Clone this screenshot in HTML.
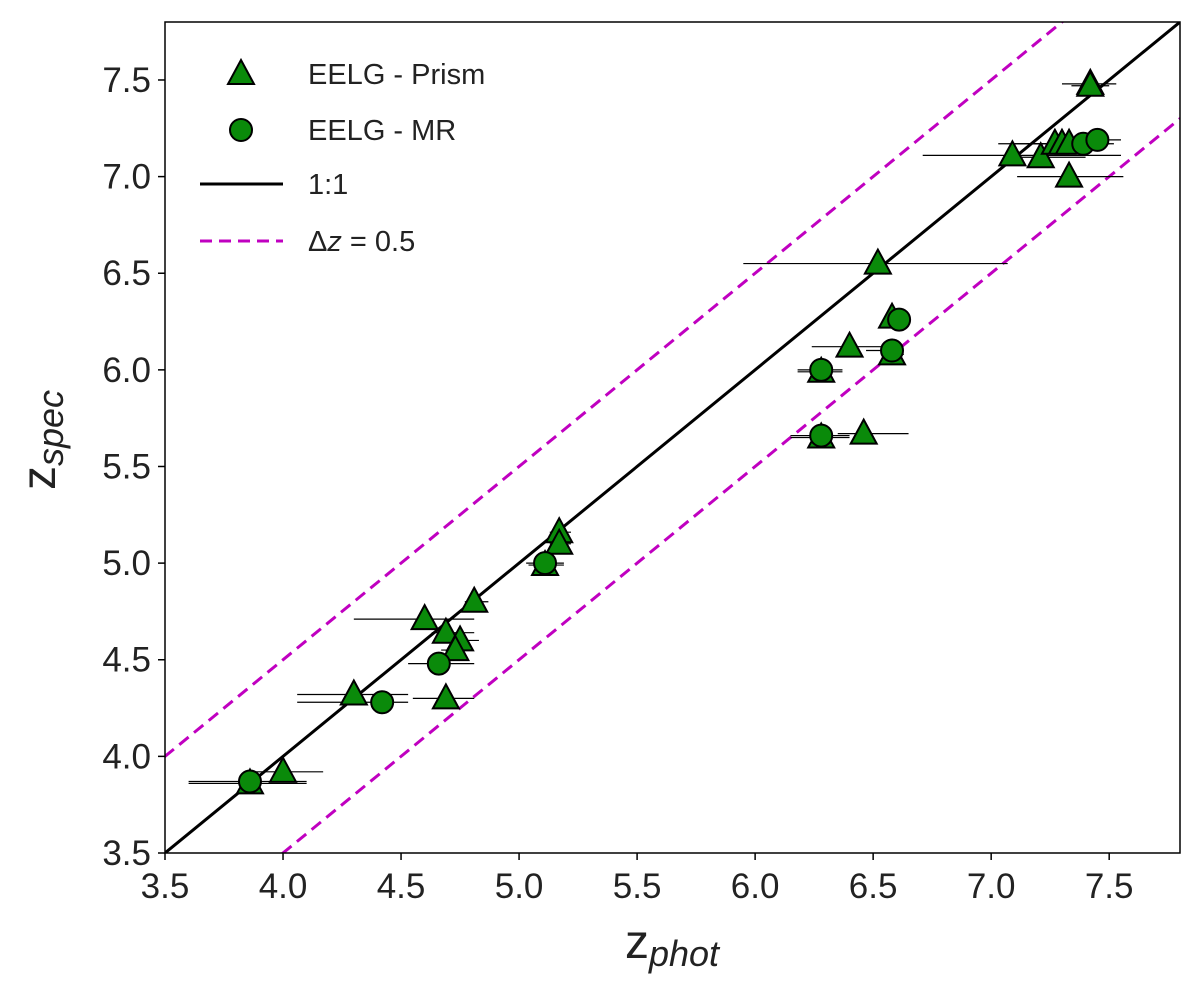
<!DOCTYPE html>
<html><head><meta charset="utf-8"><style>
body{margin:0;background:#fff;}
svg text{font-family:"Liberation Sans",sans-serif;fill:#222;}
</style></head><body>
<svg id="c" width="1200" height="997" xmlns="http://www.w3.org/2000/svg"></svg>
<script>
const prismX=[3.86,4.00,4.30,4.69,4.60,4.69,4.75,4.73,4.81,5.17,5.17,5.11,6.52,6.58,6.58,6.40,6.28,6.28,6.46,7.09,7.21,7.33,7.27,7.30,7.33,7.42,7.42];
const prismY=[3.86,3.92,4.32,4.30,4.71,4.64,4.60,4.55,4.80,5.16,5.10,4.99,6.55,6.27,6.08,6.12,5.99,5.65,5.67,7.11,7.10,7.00,7.17,7.17,7.17,7.48,7.47];
const prismXlo=[3.60,3.86,4.06,4.55,4.30,4.63,4.69,4.67,4.77,5.13,5.13,5.04,5.95,6.55,6.55,6.24,6.18,6.15,6.35,6.71,7.06,7.11,7.03,7.10,7.15,7.30,7.34];
const prismXhi=[4.10,4.17,4.53,4.81,4.81,4.81,4.83,4.80,4.87,5.22,5.22,5.19,7.07,6.62,6.63,6.58,6.37,6.40,6.65,7.55,7.40,7.56,7.50,7.50,7.52,7.53,7.50];
const mrX=[3.86,4.42,4.66,5.11,6.28,6.61,6.58,6.28,7.39,7.45];
const mrY=[3.87,4.28,4.48,5.00,6.00,6.26,6.10,5.66,7.17,7.19];
const mrXlo=[3.60,4.06,4.53,5.03,6.18,6.55,6.47,6.15,7.30,7.40];
const mrXhi=[4.10,4.53,4.81,5.19,6.37,6.66,6.63,6.40,7.50,7.55];
const ticks=[3.5,4.0,4.5,5.0,5.5,6.0,6.5,7.0,7.5];
const tickLabels=["3.5","4.0","4.5","5.0","5.5","6.0","6.5","7.0","7.5"];
const L=165,R=1180,T=22,B=853,MIN=3.5,MAX=7.8;
const sx=v=>L+(v-MIN)/(MAX-MIN)*(R-L);
const sy=v=>B-(v-MIN)/(MAX-MIN)*(B-T);
const svg=document.getElementById('c');const NS='http://www.w3.org/2000/svg';
function mk(tag,attrs,parent){const e=document.createElementNS(NS,tag);for(const k in attrs)e.setAttribute(k,attrs[k]);(parent||svg).appendChild(e);return e;}
const defs=mk('clipPath',{id:'clip'});mk('rect',{x:L,y:T,width:R-L,height:B-T},defs);
const g=mk('g',{'clip-path':'url(#clip)'});


let ln=mk('line',{x1:sx(3.5),y1:sy(3.5),x2:sx(7.8),y2:sy(7.8),stroke:'#000','stroke-width':3},g);


[0.5,-0.5].forEach(o=>{const d=mk('line',{x1:sx(3.0),y1:sy(3.0+o),x2:sx(8.0),y2:sy(8.0+o),stroke:'#c000c0','stroke-width':3,'stroke-dasharray':'12,7'},g);

});
function err(xs,ys,lo,hi){for(let i=0;i<xs.length;i++){const e=mk('line',{x1:sx(lo[i]),x2:sx(hi[i]),y1:sy(ys[i]),y2:sy(ys[i]),stroke:'#000','stroke-width':1.2},g);

}}
err(prismX,prismY,prismXlo,prismXhi);err(mrX,mrY,mrXlo,mrXhi);
function tri(cx,cy,p){return mk('polygon',{points:`${cx},${cy-14} ${cx-13},${cy+10} ${cx+13},${cy+10}`,fill:'#0a8a0a',stroke:'#000','stroke-width':2},p);}
for(let i=0;i<prismX.length;i++){const t=tri(sx(prismX[i]),sy(prismY[i]),g);

}
for(let i=0;i<mrX.length;i++){const c=mk('circle',{cx:sx(mrX[i]),cy:sy(mrY[i]),r:11,fill:'#0a8a0a',stroke:'#000','stroke-width':2},g);

}
const fr=mk('rect',{x:L,y:T,width:R-L,height:B-T,fill:'none',stroke:'#000','stroke-width':1.5});


ticks.forEach((v,i)=>{
const a=mk('line',{x1:sx(v),x2:sx(v),y1:B,y2:B+7,stroke:'#000','stroke-width':1.5});


const t=mk('text',{x:sx(v),y:B+45,'text-anchor':'middle','font-size':35});t.textContent=tickLabels[i];


const b=mk('line',{x1:L-7,x2:L,y1:sy(v),y2:sy(v),stroke:'#000','stroke-width':1.5});


const u=mk('text',{x:L-14,y:sy(v)+12,'text-anchor':'end','font-size':35});u.textContent=tickLabels[i];


});
const xl=mk('text',{x:672,y:958,'text-anchor':'middle','font-size':48});
xl.innerHTML='z<tspan font-size="36" font-style="italic" dy="8">phot</tspan>';


const yl=mk('text',{x:0,y:0,'text-anchor':'middle','font-size':48,transform:'translate(55,440) rotate(-90)'});
yl.innerHTML='z<tspan font-size="36" font-style="italic" dy="8">spec</tspan>';


const lg=mk('g',{});


tri(241,74,lg);
mk('circle',{cx:241,cy:130,r:11,fill:'#0a8a0a',stroke:'#000','stroke-width':2},lg);
mk('line',{x1:200,x2:283,y1:184,y2:184,stroke:'#000','stroke-width':3},lg);
mk('line',{x1:200,x2:283,y1:241,y2:241,stroke:'#c000c0','stroke-width':3,'stroke-dasharray':'12,7'},lg);
const labs=['EELG - Prism','EELG - MR','1:1','Δ<tspan font-style="italic">z</tspan> = 0.5'];
[84,140,194,251].forEach((y,i)=>{const t=mk('text',{x:308,y:y,'font-size':29},lg);t.innerHTML=labs[i];

});
</script>
</body></html>
